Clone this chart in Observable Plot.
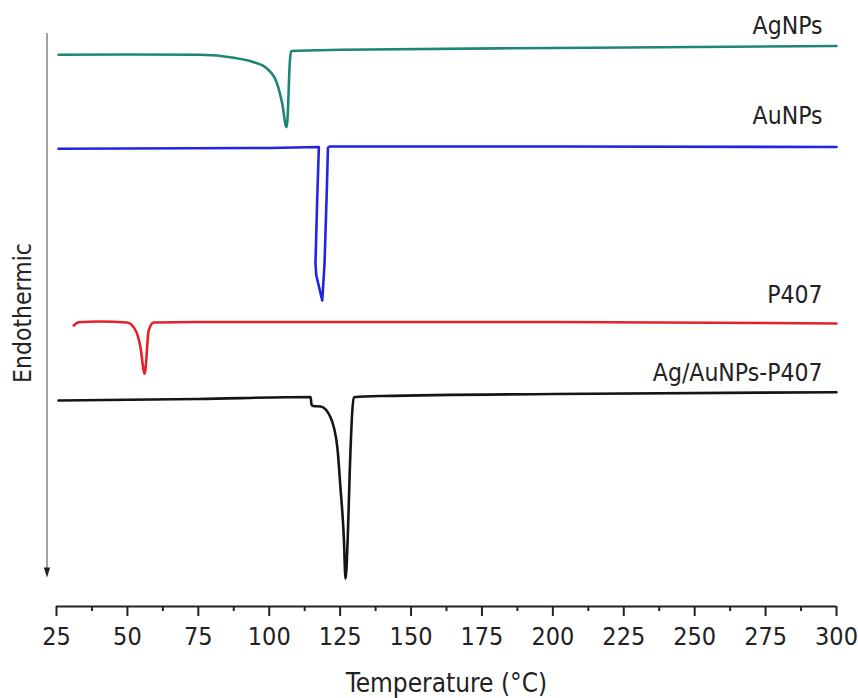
<!DOCTYPE html>
<html>
<head>
<meta charset="utf-8">
<script src="https://cdn.jsdelivr.net/npm/d3@7"></script>
<script src="https://cdn.jsdelivr.net/npm/@observablehq/plot@0.6"></script>
<style>
  html, body { margin: 0; padding: 0; background: #fff; }
  #chart svg { font-family: "DejaVu Sans Condensed", "DejaVu Sans", sans-serif; font-stretch: condensed; }
</style>
</head>
<body>
<div id="chart"></div>
<script>
// Temperature (°C) and heat flow (arbitrary units, curves offset vertically)
const agT = [25.7, 50, 75.8, 87.5, 94.6, 99.3, 102.8, 104.6, 106.1, 106.4, 107.3, 107.7, 125, 200, 300];
const agV = [55.17, 55.2, 55.17, 54.87, 54.43, 53.77, 52.27, 50.27, 47.93, 48.6, 54.6, 55.55, 55.67, 55.85, 56.05];

const auT = [25.7, 100, 117.5, 116.9, 116.3, 116.6, 118.7, 119.5, 120.3, 120.7, 121.3, 200, 300];
const auV = [45.77, 45.85, 45.95, 40.6, 34.3, 33.1, 30.6, 34.3, 41.6, 45.9, 46.0, 46.0, 45.95];

const pT = [31.1, 32.8, 40, 49.9, 52.9, 54.5, 56.1, 57.5, 59.3, 75, 200, 300];
const pV = [28.1, 28.43, 28.5, 28.4, 27.6, 26.1, 23.27, 27.6, 28.4, 28.45, 28.45, 28.3];

const mixT = [25.7, 75, 114.6, 114.9, 115.5, 118.1, 121.6, 124, 125.1, 126.3, 126.9, 127.7, 128.4, 129.3, 129.8, 140, 200, 300];
const mixV = [20.6, 20.75, 20.95, 20.2, 20.05, 20.0, 18.93, 15.93, 11.93, 6.93, 2.77, 7.0, 13.6, 19.6, 20.93, 21.05, 21.25, 21.43];

const seriesNames = ["AgNPs", "AuNPs", "P407", "Ag/AuNPs-P407"];
const seriesColors = ["#1e8676", "#2323e6", "#e6202b", "#151515"];
const labelY = [57.3, 48.3, 30.35, 22.6];   // label baselines (same units)

const majorTicks = [25, 50, 75, 100, 125, 150, 175, 200, 225, 250, 275, 300];
const minorTicks = majorTicks.slice(0, -1).map(t => t + 12.5);

const xLabel = "Temperature (°C)";
const yLabel = "Endothermic";
const yLabelPos = {x: 13.2, y: 29.35};
const arrowX = 21.65, arrowTop = 57.3, arrowBottom = 3.7, arrowHead = 3.4;

const toRows = (T, V) => T.map((t, i) => ({t, v: V[i]}));
const series = [toRows(agT, agV), toRows(auT, auV), toRows(pT, pV), toRows(mixT, mixV)];
const curves = ["monotone-x", "linear", "monotone-x", "monotone-x"];

const headSymbol = {
  draw(ctx) {
    ctx.moveTo(0, 5);
    ctx.lineTo(-3.2, -5);
    ctx.lineTo(3.2, -5);
    ctx.closePath();
  }
};

const labels = seriesNames.map((name, i) => ({name, t: 300, v: labelY[i]}));

const chart = Plot.plot({
  width: 858,
  height: 698,
  marginLeft: 56,
  marginRight: 22,
  marginTop: 0,
  marginBottom: 92,
  style: {fontSize: "25px", color: "#222", background: "#fff"},
  x: {domain: [25, 300]},
  y: {domain: [0, 60.6], axis: null},
  marks: [
    Plot.ruleY([0], {stroke: "#222", strokeWidth: 2}),
    Plot.axisX({ticks: minorTicks, tickSize: 5, tickFormat: () => "", strokeWidth: 2, label: null}),
    Plot.axisX({ticks: majorTicks, tickSize: 10, tickPadding: 11, strokeWidth: 2, fontSize: 25, label: null}),
    Plot.text([xLabel], {frameAnchor: "bottom", dy: 85, lineAnchor: "bottom", text: d => d, fontSize: 26, fill: "#222"}),
    Plot.ruleX([arrowX], {y1: arrowTop, y2: arrowBottom, stroke: "#8a8a8a", strokeWidth: 1.6, clip: false}),
    Plot.dot([arrowX], {x: d => d, y: () => arrowHead, symbol: headSymbol, fill: "#222", stroke: "none", r: 5, clip: false}),
    Plot.text([yLabel], {x: () => yLabelPos.x, y: () => yLabelPos.y, text: d => d, rotate: -90, fontSize: 24.5, fill: "#222", clip: false}),
    ...series.map((rows, i) => Plot.line(rows, {x: "t", y: "v", stroke: seriesColors[i], strokeWidth: 2.6, curve: curves[i]})),
    Plot.text(labels, {x: "t", y: "v", text: "name", textAnchor: "end", lineAnchor: "bottom", dx: -14, fontSize: 24.5, fill: "#222"})
  ]
});
document.getElementById("chart").append(chart);
</script>
</body>
</html>
